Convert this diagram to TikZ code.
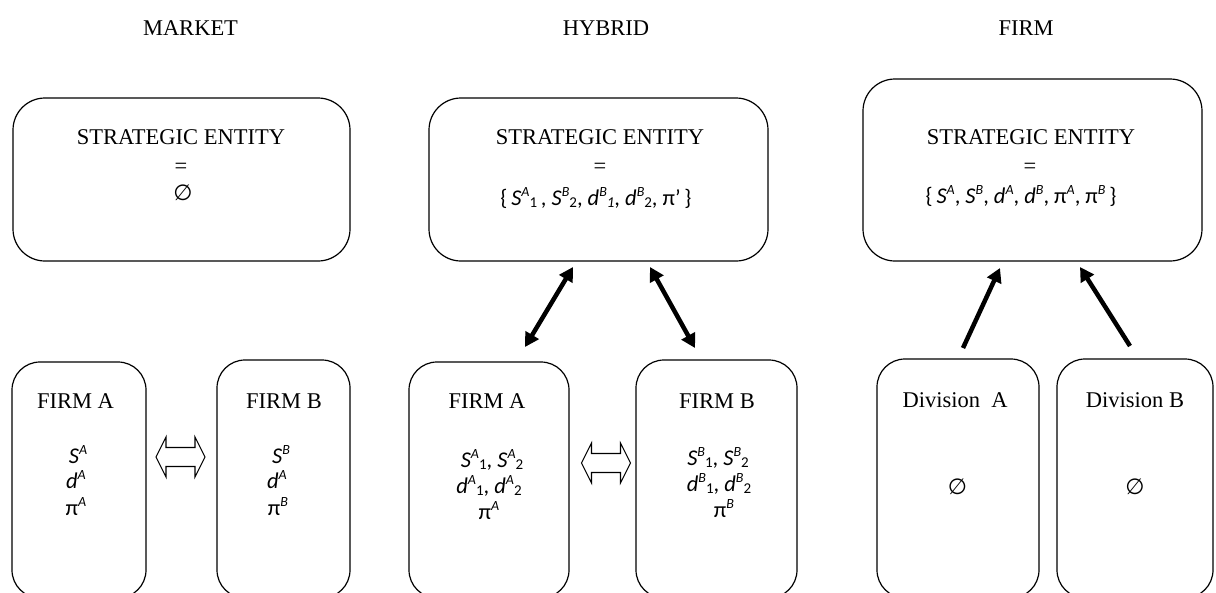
\documentclass[tikz,border=0pt]{standalone}
\usepackage{fontspec}
\setmainfont{Liberation Serif}
\newfontfamily\calib{Carlito}
\newfontfamily\djv{DejaVu Sans}
\usetikzlibrary{arrows.meta}
\newcommand\supx[1]{\raisebox{0.38em}{\fontsize{14}{14}\selectfont\itshape #1}}
\newcommand\subx[1]{\raisebox{-0.12em}{\fontsize{15}{15}\selectfont #1}}
\newcommand\eset{{\djv\fontsize{22}{22}\selectfont ∅}}
\newcommand\Sv{\textit{S}}
\newcommand\dv{\textit{d}}
\begin{document}
\begin{tikzpicture}[x=1pt,y=-1pt,
  topbox/.style={draw,line width=1.2pt,rounded corners=32pt,inner sep=0pt},
  botbox/.style={draw,line width=1.2pt,rounded corners=28pt,inner sep=0pt},
  title/.style={font=\fontsize{22.5}{25}\selectfont,anchor=base,inner sep=0pt},
  varx/.style={font=\calib\fontsize{22.5}{25}\selectfont,anchor=base,inner sep=0pt},
  esetnode/.style={inner sep=0pt,anchor=center},
  bigarrow/.style={line width=4.5pt,-{Triangle[length=14pt,width=15pt]}},
  bothbig/.style={line width=4.5pt,{Triangle[length=14pt,width=15pt]}-{Triangle[length=14pt,width=15pt]}},
  openarrow/.pic={\draw[line width=1.1pt,line join=miter]
     (-24.5,0) -- (-14.5,-20) -- (-14.5,-9.5) -- (14.5,-9.5) -- (14.5,-20) -- (24.5,0)
     -- (14.5,20) -- (14.5,9.5) -- (-14.5,9.5) -- (-14.5,20) -- cycle;}]
\path[use as bounding box,clip] (0,0) rectangle (1216,592);

% headers
\node[title] (hm) at (190.5,35) {MARKET};
\node[title] (hh) at (606,35) {HYBRID};
\node[title] (hf) at (1026,35) {FIRM};

% top boxes
\node[topbox,minimum width=337pt,minimum height=163pt] (mse) at (181.5,179.5) {};
\node[topbox,minimum width=339pt,minimum height=163pt] (hse) at (598.5,179.5) {};
\node[topbox,minimum width=339pt,minimum height=182pt] (fse) at (1032.5,170) {};

\node[title] (mset) at (181,144) {STRATEGIC ENTITY};
\node[title] (meq) at (181,173) {=};
\node[esetnode] (mnull) at (183,193) {\eset};

\node[title] (hset) at (600,144) {STRATEGIC ENTITY};
\node[title] (heq) at (600,173) {=};
\node[varx] (hvars) at (596,205) {\{\,\Sv\supx{A}\subx{1}\,, \Sv\supx{B}\subx{2}, \dv\supx{B}\subx{\itshape 1}, \dv\supx{B}\subx{2}, π’\,\}};

\node[title] (fset) at (1031,144) {STRATEGIC ENTITY};
\node[title] (feq) at (1030,173) {=};
\node[varx] (fvars) at (1021,203) {\{\,\Sv\supx{A}, \Sv\supx{B}, \dv\supx{A}, \dv\supx{B}, π\supx{A}, π\supx{B}\,\}};

% bottom boxes
\node[botbox,minimum width=134pt,minimum height=236pt] (ma) at (79,480) {};
\node[botbox,minimum width=133pt,minimum height=238pt] (mb) at (283.5,479) {};
\node[botbox,minimum width=160pt,minimum height=236pt] (ha) at (489,480) {};
\node[botbox,minimum width=161pt,minimum height=238pt] (hb) at (716.5,479) {};
\node[botbox,minimum width=162pt,minimum height=239pt] (da) at (958,478.5) {};
\node[botbox,minimum width=156pt,minimum height=239pt] (db) at (1135,478.5) {};

% market firm texts
\node[title] (mat) at (75.5,408) {FIRM A};
\node[varx] (ma1) at (78,463) {\Sv\supx{A}};
\node[varx] (ma2) at (76,488) {\dv\supx{A}};
\node[varx] (ma3) at (76,515) {π\supx{A}};

\node[title] (mbt) at (284,408) {FIRM B};
\node[varx] (mb1) at (281,463) {\Sv\supx{B}};
\node[varx] (mb2) at (277,488) {\dv\supx{A}};
\node[varx] (mb3) at (278,515) {π\supx{B}};

% hybrid firm texts
\node[title] (hat) at (487,408) {FIRM A};
\node[varx] (ha1) at (492,467) {\Sv\supx{A}\subx{1}, \Sv\supx{A}\subx{2}};
\node[varx] (ha2) at (489,493) {\dv\supx{A}\subx{1}, \dv\supx{A}\subx{2}};
\node[varx] (ha3) at (489,519) {π\supx{A}};

\node[title] (hbt) at (717,408) {FIRM B};
\node[varx] (hb1) at (718,465) {\Sv\supx{B}\subx{1}, \Sv\supx{B}\subx{2}};
\node[varx] (hb2) at (719,491) {\dv\supx{B}\subx{1}, \dv\supx{B}\subx{2}};
\node[varx] (hb3) at (724,517) {π\supx{B}};

% firm divisions
\node[title] (dat) at (955,407) {Division\ \ A};
\node[esetnode] (dan) at (957.5,487) {\eset};
\node[title] (dbt) at (1135,407) {Division B};
\node[esetnode] (dbn) at (1135,487) {\eset};

% open double arrows
\pic at (180.5,457) {openarrow};
\pic at (606,463) {openarrow};

% thick arrows
\coordinate (hl1) at (525,347);
\coordinate (hl2) at (573,267);
\coordinate (hr1) at (650,267);
\coordinate (hr2) at (695,348);
\coordinate (fl1) at (963,348);
\coordinate (fl2) at (1000,268);
\coordinate (fr1) at (1130,346);
\coordinate (fr2) at (1080,267);
\draw[bothbig] (hl1) -- (hl2);
\draw[bothbig] (hr1) -- (hr2);
\draw[bigarrow] (fl1) -- (fl2);
\draw[bigarrow] (fr1) -- (fr2);
\end{tikzpicture}
\end{document}
